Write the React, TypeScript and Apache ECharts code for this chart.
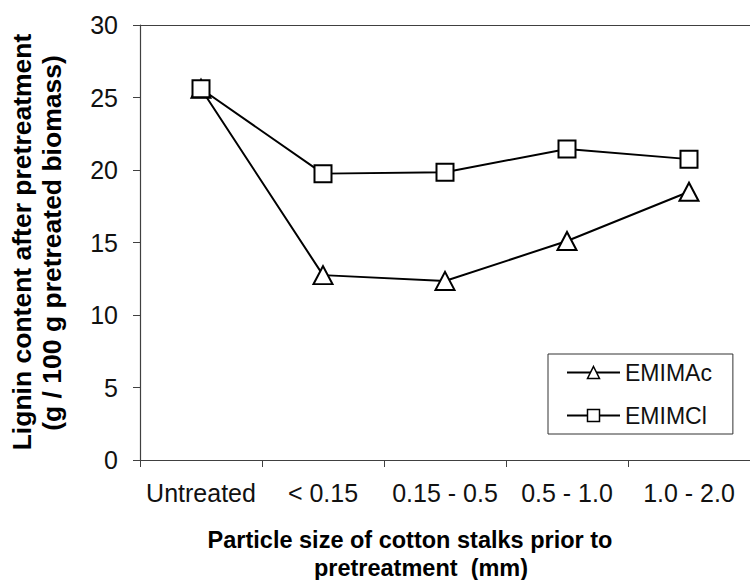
import React, { useEffect, useRef } from "react";
import * as echarts from "echarts";

const categories = ["Untreated", "< 0.15", "0.15 - 0.5", "0.5 - 1.0", "1.0 - 2.0"];
const emimAc = [25.6, 12.75, 12.35, 15.1, 18.5];
const emimCl = [25.6, 19.75, 19.85, 21.45, 20.75];
const yTitleLines = ["Lignin content after pretreatment", "(g / 100 g pretreated biomass)"];
const xTitleLines = ["Particle size of cotton stalks prior to", "pretreatment  (mm)"];

const FONT = "Liberation Sans, Arial, sans-serif";
const AXIS_COLOR = "#404040";

export default function App() {
  const ref = useRef<HTMLDivElement>(null);
  useEffect(() => {
    if (!ref.current) return;
    const chart = echarts.init(ref.current, undefined, { renderer: "svg" });
    const markerStyle = { color: "#ffffff", borderColor: "#000000", borderWidth: 2 };
    chart.setOption({
      animation: false,
      backgroundColor: "#ffffff",
      grid: { left: 140, top: 25, width: 614, height: 435 },
      legend: {
        orient: "vertical",
        left: 548,
        top: 354,
        padding: [7, 21, 7, 18],
        itemWidth: 53,
        itemHeight: 15,
        itemGap: 20,
        borderColor: "#333",
        borderWidth: 1,
        backgroundColor: "#fff",
        textStyle: { fontFamily: FONT, fontSize: 23, color: "#111", lineHeight: 23 },
        itemStyle: { borderWidth: 1.5 },
        data: ["EMIMAc", "EMIMCl"],
      },
      xAxis: [
        {
          type: "category",
          data: categories,
          boundaryGap: true,
          axisLine: { show: true, lineStyle: { color: AXIS_COLOR, width: 1.2 } },
          axisTick: { show: true, length: 7, inside: false, lineStyle: { color: AXIS_COLOR } },
          axisLabel: { fontFamily: FONT, fontSize: 25, color: "#111", margin: 20, interval: 0 },
          splitLine: { show: false },
        },
        {
          type: "category",
          position: "top",
          data: categories,
          axisLine: { show: true, lineStyle: { color: AXIS_COLOR, width: 1.2 } },
          axisTick: { show: false },
          axisLabel: { show: false },
          splitLine: { show: false },
        },
      ],
      yAxis: {
        type: "value",
        min: 0,
        max: 30,
        interval: 5,
        axisLine: { show: true, lineStyle: { color: AXIS_COLOR, width: 1.2 } },
        axisTick: { show: true, length: 7, inside: false, lineStyle: { color: AXIS_COLOR } },
        axisLabel: { fontFamily: FONT, fontSize: 25, color: "#111", margin: 22 },
        splitLine: { show: false },
      },
      series: [
        {
          name: "EMIMAc",
          type: "line",
          data: emimAc,
          symbol: "triangle",
          symbolSize: [19, 18],
          showAllSymbol: true,
          lineStyle: { color: "#000", width: 2 },
          itemStyle: markerStyle,
          silent: true,
          z: 2,
        },
        {
          name: "EMIMCl",
          type: "line",
          data: emimCl,
          symbol: "rect",
          symbolSize: 17,
          showAllSymbol: true,
          lineStyle: { color: "#000", width: 2 },
          itemStyle: markerStyle,
          silent: true,
          z: 3,
        },
      ],
      graphic: [
        {
          type: "text",
          x: 22,
          y: 242,
          rotation: Math.PI / 2,
          style: {
            text: yTitleLines[0],
            fontFamily: FONT,
            fontWeight: "bold",
            fontSize: 26.5,
            fill: "#000",
            align: "center",
            verticalAlign: "middle",
          },
        },
        {
          type: "text",
          x: 52,
          y: 243,
          rotation: Math.PI / 2,
          style: {
            text: yTitleLines[1],
            fontFamily: FONT,
            fontWeight: "bold",
            fontSize: 26.5,
            fill: "#000",
            align: "center",
            verticalAlign: "middle",
          },
        },
        {
          type: "text",
          x: 410,
          y: 540,
          style: {
            text: xTitleLines[0],
            fontFamily: FONT,
            fontWeight: "bold",
            fontSize: 23.5,
            fill: "#000",
            align: "center",
            verticalAlign: "middle",
          },
        },
        {
          type: "text",
          x: 421,
          y: 568,
          style: {
            text: xTitleLines[1],
            fontFamily: FONT,
            fontWeight: "bold",
            fontSize: 23.5,
            fill: "#000",
            align: "center",
            verticalAlign: "middle",
          },
        },
      ],
    });
    return () => chart.dispose();
  }, []);
  return <div ref={ref} style={{ width: 750, height: 580, position: "absolute", left: 0, top: 0 }} />;
}
